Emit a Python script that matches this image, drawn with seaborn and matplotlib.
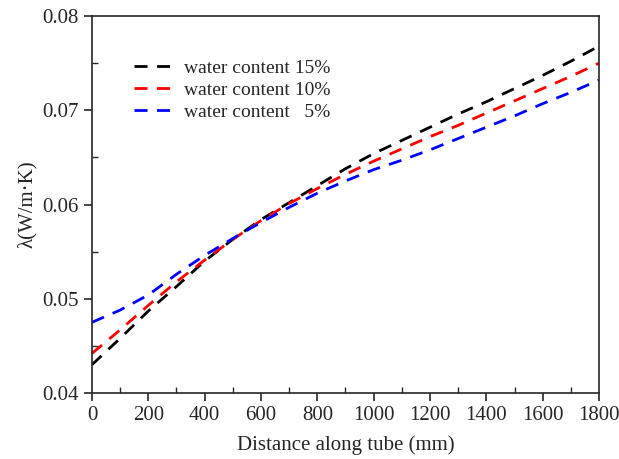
import pandas as pd
import matplotlib.pyplot as plt
import seaborn as sns
from matplotlib.ticker import MultipleLocator

distance = [0, 100, 200, 300, 400, 500, 600, 700, 800, 900, 1000, 1100, 1200, 1300, 1400, 1500, 1600, 1700, 1800]
lam_15 = [0.0430, 0.0458, 0.0487, 0.0513, 0.0540, 0.0563, 0.0584, 0.0602, 0.0620, 0.0638, 0.0654, 0.0668, 0.0682, 0.0696, 0.0709, 0.0723, 0.0737, 0.0752, 0.0768]
lam_10 = [0.0442, 0.0467, 0.0493, 0.0518, 0.0541, 0.0563, 0.0583, 0.0601, 0.0617, 0.0632, 0.0646, 0.0659, 0.0672, 0.0684, 0.0697, 0.0710, 0.0723, 0.0736, 0.0750]
lam_5 = [0.0475, 0.0488, 0.0504, 0.0526, 0.0546, 0.0564, 0.0581, 0.0597, 0.0612, 0.0625, 0.0637, 0.0647, 0.0658, 0.0670, 0.0682, 0.0694, 0.0707, 0.0719, 0.0732]
labels = ['water content 15%', 'water content 10%', 'water content   5%']
colors = ['black', 'red', 'blue']

df = pd.DataFrame({
    'Distance': distance * 3,
    'lam': lam_15 + lam_10 + lam_5,
    'series': [labels[0]] * len(distance) + [labels[1]] * len(distance) + [labels[2]] * len(distance),
})

sns.set_style('ticks')
plt.rcParams['font.family'] = ['Liberation Serif', 'DejaVu Serif']

fig = plt.figure(figsize=(6.19, 4.59), dpi=100)
ax = fig.add_axes([0.1486, 0.1438, 0.8191, 0.8213])

lw = 2.0
dash = (4.7, 3.4)
sns.lineplot(data=df, x='Distance', y='lam', hue='series', palette=colors,
             linewidth=lw, ax=ax, legend=False)
for line in ax.get_lines():
    line.set_dashes(dash)
    line.set_dash_capstyle('butt')

for lab, c in zip(labels, colors):
    ax.plot([], [], color=c, linewidth=lw, dashes=dash, label=lab)
ax.legend(loc='upper left', bbox_to_anchor=(0.049, 0.932), frameon=False,
          fontsize=14, handlelength=1.9, labelspacing=0.22, handletextpad=0.65)

ax.set_xlim(0, 1800)
ax.set_ylim(0.04, 0.08)
ax.xaxis.set_major_locator(MultipleLocator(200))
ax.xaxis.set_minor_locator(MultipleLocator(100))
ax.yaxis.set_major_locator(MultipleLocator(0.01))
ax.yaxis.set_minor_locator(MultipleLocator(0.005))
ax.tick_params(which='major', direction='out', length=6, width=1.2, labelsize=15)
ax.tick_params(which='minor', direction='in', length=4, width=1.0)
for s in ax.spines.values():
    s.set_linewidth(1.2)
    s.set_visible(True)

ax.set_xlabel('Distance along tube (mm)', fontsize=15, labelpad=7)
ax.set_ylabel('λ(W/m·K)', fontsize=15, labelpad=4)

fig.savefig('out.png', dpi=100)
